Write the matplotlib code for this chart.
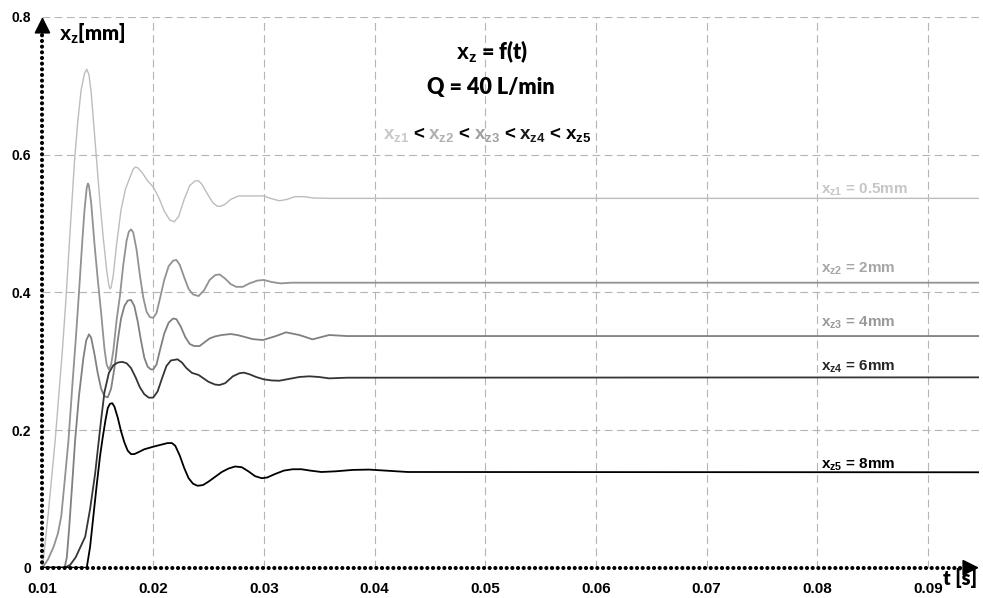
import matplotlib
matplotlib.use("Agg")
import matplotlib.pyplot as plt
from matplotlib import transforms

# Valve spool displacement x_z over time for five spring pre-loads, Q = 40 L/min
t1 = [0.0100, 0.0105, 0.01115, 0.0118, 0.0121, 0.0125, 0.0129, 0.0132, 0.0135, 0.0138, 0.0140,
      0.0142, 0.0144, 0.0146, 0.0149, 0.0152, 0.0155, 0.0158, 0.0160, 0.0161, 0.0162, 0.0164,
      0.0167, 0.0171, 0.0175, 0.0179, 0.0182, 0.0184, 0.0186, 0.0190, 0.0195, 0.0200, 0.0205,
      0.0210, 0.0215, 0.0219, 0.0223, 0.0228, 0.0233, 0.0238, 0.0241, 0.0244, 0.0249, 0.0254,
      0.0258, 0.0261, 0.0265, 0.0270, 0.0277, 0.0285, 0.0293, 0.0300, 0.0307, 0.0314, 0.0321,
      0.0328, 0.0336, 0.0345, 0.0360, 0.0380, 0.0946]
v1 = [0.000, 0.075, 0.185, 0.316, 0.385, 0.490, 0.592, 0.650, 0.695, 0.718, 0.724,
      0.716, 0.690, 0.650, 0.590, 0.530, 0.478, 0.432, 0.410, 0.405, 0.407, 0.425,
      0.470, 0.520, 0.550, 0.567, 0.579, 0.582, 0.581, 0.574, 0.562, 0.553, 0.538,
      0.518, 0.505, 0.5025, 0.510, 0.535, 0.555, 0.562, 0.562, 0.557, 0.543, 0.530,
      0.525, 0.525, 0.528, 0.535, 0.540, 0.540, 0.540, 0.540, 0.536, 0.533, 0.535,
      0.539, 0.539, 0.537, 0.5365, 0.5365, 0.5365]

t2 = [0.0100, 0.0105, 0.0110, 0.0114, 0.0117, 0.0120, 0.01235, 0.0127, 0.0130, 0.0133, 0.0136,
      0.0138, 0.0140, 0.0141, 0.0142, 0.0144, 0.0147, 0.0150, 0.0153, 0.0156, 0.0158, 0.0160,
      0.0162, 0.0164, 0.0167, 0.0170, 0.0173, 0.0176, 0.0178, 0.0180, 0.0182, 0.0185, 0.0188,
      0.0191, 0.0194, 0.0197, 0.0200, 0.0203, 0.0206, 0.0210, 0.0214, 0.0218, 0.0221, 0.0224,
      0.0228, 0.0232, 0.0236, 0.0241, 0.0246, 0.0251, 0.0256, 0.0260, 0.0265, 0.0270, 0.0275,
      0.0281, 0.0287, 0.0294, 0.0300, 0.0307, 0.0315, 0.0325, 0.0946]
v2 = [0.000, 0.012, 0.030, 0.050, 0.075, 0.125, 0.185, 0.265, 0.330, 0.400, 0.475,
      0.520, 0.552, 0.558, 0.555, 0.530, 0.470, 0.418, 0.370, 0.318, 0.295, 0.288,
      0.295, 0.315, 0.360, 0.395, 0.440, 0.475, 0.488, 0.4915, 0.487, 0.462, 0.425,
      0.393, 0.372, 0.364, 0.363, 0.370, 0.390, 0.418, 0.438, 0.446, 0.447, 0.440,
      0.422, 0.405, 0.397, 0.3946, 0.403, 0.418, 0.425, 0.426, 0.420, 0.412, 0.408,
      0.408, 0.413, 0.417, 0.418, 0.415, 0.413, 0.414, 0.414]

t3 = [0.0100, 0.0120, 0.0122, 0.0124, 0.0127, 0.01295, 0.0133, 0.0137, 0.01395, 0.0142, 0.0144,
      0.0147, 0.0150, 0.0153, 0.0156, 0.0159, 0.0162, 0.0165, 0.0168, 0.0171, 0.0174, 0.0177,
      0.0180, 0.0183, 0.0186, 0.0189, 0.0192, 0.0195, 0.0198, 0.0200, 0.0203, 0.0206, 0.0210,
      0.0214, 0.0218, 0.0221, 0.0225, 0.0229, 0.0233, 0.0237, 0.0242, 0.0246, 0.0251, 0.0256,
      0.0262, 0.0270, 0.0276, 0.0282, 0.0290, 0.0299, 0.0310, 0.0320, 0.0332, 0.0344, 0.0359,
      0.0375, 0.0946]
v3 = [0.000, 0.000, 0.015, 0.055, 0.125, 0.185, 0.250, 0.305, 0.330, 0.339, 0.334,
      0.310, 0.282, 0.260, 0.249, 0.2475, 0.260, 0.290, 0.330, 0.362, 0.380, 0.388,
      0.389, 0.380, 0.358, 0.330, 0.305, 0.292, 0.288, 0.288, 0.295, 0.315, 0.340,
      0.356, 0.362, 0.361, 0.350, 0.335, 0.325, 0.322, 0.322, 0.327, 0.333, 0.336,
      0.338, 0.3394, 0.338, 0.3355, 0.332, 0.3307, 0.336, 0.3419, 0.338, 0.3317, 0.338,
      0.3365, 0.3365]

t4 = [0.0100, 0.0120, 0.0125, 0.0130, 0.01386, 0.0143, 0.01476, 0.0150, 0.0153, 0.0156, 0.0160,
      0.0164, 0.0168, 0.0172, 0.0176, 0.0180, 0.0184, 0.0188, 0.0192, 0.0196, 0.0200, 0.0204,
      0.0208, 0.0212, 0.0216, 0.0222, 0.0226, 0.0230, 0.0235, 0.0241, 0.0250, 0.0256, 0.0260,
      0.0265, 0.0272, 0.0278, 0.0282, 0.0287, 0.0293, 0.0300, 0.0307, 0.0314, 0.0322, 0.0332,
      0.0341, 0.0350, 0.0359, 0.0375, 0.0946]
v4 = [0.000, 0.000, 0.004, 0.015, 0.045, 0.085, 0.137, 0.172, 0.215, 0.255, 0.283,
      0.294, 0.298, 0.299, 0.297, 0.290, 0.277, 0.262, 0.252, 0.247, 0.247, 0.256,
      0.275, 0.293, 0.301, 0.3027, 0.298, 0.290, 0.283, 0.280, 0.270, 0.266, 0.2654,
      0.268, 0.278, 0.2825, 0.2833, 0.281, 0.277, 0.2736, 0.272, 0.2716, 0.274, 0.277,
      0.278, 0.277, 0.275, 0.276, 0.2765]

t5 = [0.0100, 0.0140, 0.0143, 0.0146, 0.0149, 0.0152, 0.01545, 0.0157, 0.0159, 0.0161, 0.0163,
      0.0165, 0.0168, 0.0171, 0.0174, 0.0177, 0.0180, 0.0183, 0.0187, 0.0192, 0.0200, 0.0208,
      0.0213, 0.0217, 0.0220, 0.0224, 0.0228, 0.0232, 0.0236, 0.0240, 0.0245, 0.0250, 0.0256,
      0.0262, 0.0268, 0.0274, 0.0280, 0.0286, 0.0292, 0.0298, 0.0303, 0.0310, 0.0318, 0.0326,
      0.0334, 0.0342, 0.0352, 0.0365, 0.0380, 0.0395, 0.0410, 0.0430, 0.0946]
v5 = [0.000, 0.000, 0.030, 0.075, 0.120, 0.162, 0.190, 0.215, 0.232, 0.238, 0.239,
      0.234, 0.218, 0.198, 0.182, 0.170, 0.165, 0.165, 0.168, 0.172, 0.1757, 0.179,
      0.181, 0.181, 0.177, 0.163, 0.145, 0.130, 0.122, 0.119, 0.120, 0.125, 0.132,
      0.139, 0.144, 0.147, 0.146, 0.140, 0.133, 0.130, 0.131, 0.136, 0.141, 0.143,
      0.143, 0.141, 0.139, 0.140, 0.142, 0.1425, 0.141, 0.139, 0.1386]

series = [(t1, v1), (t2, v2), (t3, v3), (t4, v4), (t5, v5)]
line_colors = ['#bdbdbd', '#929292', '#808080', '#353535', '#000000']
line_widths = [1.0, 1.3, 1.3, 1.3, 1.3]

label_subs = ['z1', 'z2', 'z3', 'z4', 'z5']
label_sizes = ['0.5mm', '2mm', '4mm', '6mm', '8mm']
label_colors = ['#c6c6c6', '#a6a6a6', '#999999', '#262626', '#000000']
label_offsets = [3.5, 7.0, 7.0, 5.0, 3.0]  # points above the settled line

xticks = [0.01, 0.02, 0.03, 0.04, 0.05, 0.06, 0.07, 0.08, 0.09]
xticklabels = ['0.01', '0.02', '0.03', '0.04', '0.05', '0.06', '0.07', '0.08', '0.09']
yticks = [0, 0.2, 0.4, 0.6, 0.8]
yticklabels = ['0', '0.2', '0.4', '0.6', '0.8']

plt.rcParams['mathtext.fontset'] = 'custom'
plt.rcParams['mathtext.rm'] = 'Liberation Sans'
plt.rcParams['mathtext.bf'] = 'Liberation Sans:bold'
plt.rcParams['mathtext.it'] = 'Liberation Sans:italic'

fig = plt.figure(figsize=(9.83, 5.98), dpi=100)
ax = fig.add_axes([0.0432, 0.0507, 0.9527, 0.9209])
ax.set_xlim(0.01, 0.0946)
ax.set_ylim(0, 0.8)
for sp in ax.spines.values():
    sp.set_visible(False)

# dashed grid
for x in xticks[1:]:
    ax.axvline(x, color='#b5b5b5', lw=0.8, dashes=(7, 4), zorder=0)
for y in yticks[1:]:
    ax.axhline(y, color='#b5b5b5', lw=0.8, dashes=(7, 4), zorder=0)

for (t, v), c, lw in zip(series, line_colors, line_widths):
    ax.plot(t, v, color=c, lw=lw, zorder=3)

# dotted axes with arrow heads
dots = dict(color='black', lw=3.0, linestyle=(0, (0.01, 1.35)), dash_capstyle='round',
            clip_on=False, zorder=6)
ax.plot([0.01, 0.01], [0, 0.775], **dots)
ax.plot([0.01, 0.0938], [0, 0], **dots)
head = dict(arrowstyle='-|>,head_length=1.0,head_width=0.5', color='black', lw=1.2,
            shrinkA=0, shrinkB=0)
ax.annotate('', xy=(0.01, 0.8), xytext=(0.01, 0.775), arrowprops=head,
            annotation_clip=False, zorder=7)
ax.annotate('', xy=(0.0946, 0), xytext=(0.0935, 0), arrowprops=head,
            annotation_clip=False, zorder=7)

ax.set_xticks(xticks, labels=xticklabels)
ax.set_yticks(yticks, labels=yticklabels)
ax.tick_params(axis='x', length=0, pad=10, labelsize=11)
ax.tick_params(axis='y', length=0, pad=8, labelsize=10)
for lbl in ax.get_xticklabels() + ax.get_yticklabels():
    lbl.set_fontweight('bold')
    lbl.set_fontfamily('Liberation Sans')

# curve labels sit on the settled value of each curve
for (t, v), sub, size, c, off in zip(series, label_subs, label_sizes, label_colors, label_offsets):
    ax.annotate(r'$\mathbf{x_{%s}}$ = %s' % (sub, size), xy=(0.0803, v[-1]),
                xytext=(0, off), textcoords='offset points', ha='left', va='baseline',
                color=c, fontsize=11, fontweight='bold', fontfamily='Liberation Sans')

title_font = dict(fontfamily='Lato', fontweight='heavy')
fig.text(0.0600, 0.943, r'$\mathbf{x_z}$[mm]', ha='left', va='center', fontsize=14.5, **title_font)
fig.text(0.977, 0.033, 't [s]', ha='center', va='center', fontsize=14.5, **title_font)
fig.text(0.5005, 0.913, r'$\mathbf{x_z}$ = f(t)', ha='center', va='center', fontsize=15.5, **title_font)
fig.text(0.4995, 0.8545, 'Q = 40 L/min', ha='center', va='center', fontsize=15.5, **title_font)

# ordering line with each x_z in its curve colour
pieces = [(r'$\mathbf{x_{z1}}$', '#c8c8c8'), ('<', 'black'),
          (r'$\mathbf{x_{z2}}$', '#b0b0b0'), ('<', 'black'),
          (r'$\mathbf{x_{z3}}$', '#a0a0a0'), ('<', 'black'),
          (r'$\mathbf{x_{z4}}$', '#1a1a1a'), ('<', 'black'),
          (r'$\mathbf{x_{z5}}$', '#000000')]
renderer = fig.canvas.get_renderer()
xpos = 383.0
for s, c in pieces:
    txt = fig.text(xpos, 459, s, color=c, transform=transforms.IdentityTransform(),
                   ha='left', va='baseline', fontsize=13.5, fontfamily='Liberation Sans',
                   fontweight='bold')
    xpos += txt.get_window_extent(renderer).width + 4.2

fig.savefig('out.png', dpi=100)
